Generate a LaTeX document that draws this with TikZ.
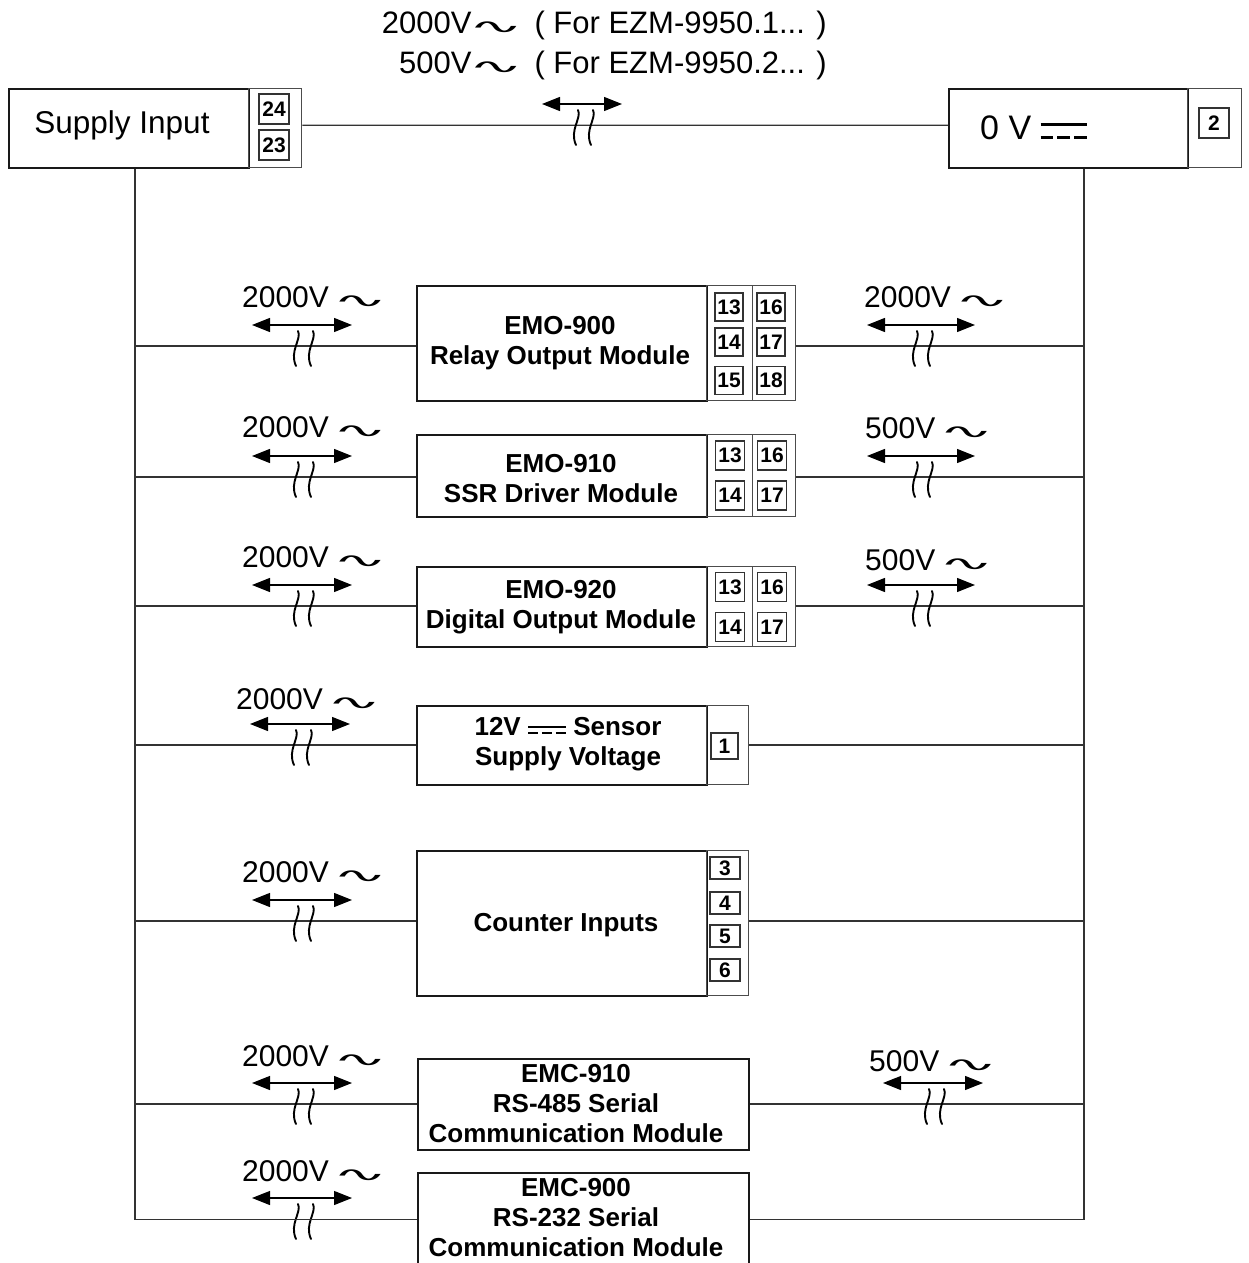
\documentclass[tikz,border=0pt]{standalone}
\usepackage{fontspec}
\setmainfont{Liberation Sans}
\newfontfamily\symfont{DejaVu Sans}
\usetikzlibrary{arrows.meta}
\newcommand\acsym{\hspace{-5pt}\raisebox{0pt}{\scalebox{3.3}[1]{\fontsize{20}{20}\symfont ∿}}\hspace{-6pt}}
\newcommand\dcsym[4]{\raisebox{#4}{\vbox{\hrule width #1 height #3 depth 0pt\vskip #2\hbox to #1{\vrule width \dimexpr #1*27/100\relax height #3 depth 0pt\hfill\vrule width \dimexpr #1*27/100\relax height #3 depth 0pt\hfill\vrule width \dimexpr #1*27/100\relax height #3 depth 0pt}}}}
\tikzset{
  wire/.style={line width=1.4pt, draw=black!80},
  mainbox/.style={draw=black!90, line width=1.5pt, inner sep=0pt, anchor=north west},
  strip/.style={draw=black!70, line width=1.4pt, inner sep=0pt, anchor=north west},
  term/.style={draw=black!80, line width=1.3pt, inner sep=0pt, font=\fontsize{21}{24}\selectfont\bfseries},
  boxtext/.style={align=center, inner sep=0pt, font=\fontsize{26}{30}\selectfont\bfseries},
  vlabel/.style={inner sep=0pt, anchor=base west, font=\fontsize{30}{36}\selectfont},
  hlabel/.style={inner sep=0pt, anchor=base east, font=\fontsize{31}{36}\selectfont},
  isoarrow/.style={line width=1.2pt, {Triangle[length=18pt,width=14pt]}-{Triangle[length=18pt,width=14pt]}},
  squig/.style={line width=1.9pt, line cap=round},
  pics/iso/.style={code={
    \draw[isoarrow] (-#1,-21) -- (#1,-21);
    \draw[squig] (-4,-15) .. controls (0,-7) and (-13,5) .. (-6,20);
    \draw[squig] (11,-15) .. controls (15,-7) and (2,5) .. (9,20);
  }}
}
\begin{document}
\begin{tikzpicture}[x=1pt,y=-1pt]
\fill[white] (0,0) rectangle (1248,1263);
\useasboundingbox (0,0) rectangle (1248,1263);
% header
\node[hlabel] (h1) at (827,34) {2000V\hspace{1.5pt}\acsym\ \ ( For EZM-9950.1... )};
\node[hlabel] (h2) at (827,74) {500V\hspace{1.5pt}\acsym\ \ ( For EZM-9950.2... )};
% supply input
\node[mainbox, minimum width=240pt, minimum height=79pt] (sup) at (8,88) {};
\node[inner sep=0pt, font=\fontsize{31.5}{36}\selectfont] (suptxt) at (122,125) {Supply Input};
\node[strip, minimum width=53pt, minimum height=79pt] (supT) at (248,88) {};
\node[term, minimum width=30pt, minimum height=30pt] (t24) at (274,109) {24};
\node[term, minimum width=30pt, minimum height=30pt] (t23) at (274,145) {23};
% 0 V
\node[mainbox, minimum width=239pt, minimum height=79pt] (zero) at (948,88) {};
\node[inner sep=0pt, anchor=base west, font=\fontsize{34}{40}\selectfont] (zerotxt) at (980,139) {0 V \dcsym{46pt}{10.5pt}{2.5pt}{0.5pt}};
\node[strip, minimum width=54pt, minimum height=79pt] (zeroT) at (1187,88) {};
\node[term, minimum width=30pt, minimum height=30pt] (t2) at (1214,123) {2};
\draw[wire] ([yshift=3pt]supT.east) -- ([yshift=3pt]zero.west);
\pic at (582,125) {iso=40};
% buses
\coordinate (bl) at (135,0);
\coordinate (br) at (1084,0);
% row 1 EMO-900
\node[mainbox, minimum width=290pt, minimum height=115pt] (m1) at (416,285) {};
\node[strip, minimum width=46pt, minimum height=115pt] (s1a) at (706,285) {};
\node[strip, minimum width=43pt, minimum height=115pt] (s1b) at (752,285) {};
\node[boxtext] (x1) at (560,343) {EMO-900\\Relay Output Module};
\node[term, minimum width=28pt, minimum height=28pt] (k113) at (729,307) {13};
\node[term, minimum width=28pt, minimum height=28pt] (k114) at (729,342) {14};
\node[term, minimum width=28pt, minimum height=28pt] (k115) at (729,380.5) {15};
\node[term, minimum width=28pt, minimum height=28pt] (k116) at (771,307) {16};
\node[term, minimum width=28pt, minimum height=28pt] (k117) at (771,342) {17};
\node[term, minimum width=28pt, minimum height=28pt] (k118) at (771,380.5) {18};
\coordinate (r1) at (0,346);
\draw[wire] (r1 -| bl) -- (r1 -| m1.west);
\draw[wire] (r1 -| s1b.east) -- (r1 -| br);
\pic at (302,346) {iso=50};
\pic at (921,346) {iso=54};
\node[vlabel] (l1) at (242,307) {2000V \acsym};
\node[vlabel] (q1) at (864,307) {2000V \acsym};
% row 2 EMO-910
\node[mainbox, minimum width=290pt, minimum height=82pt] (m2) at (416,434) {};
\node[strip, minimum width=46pt, minimum height=82pt] (s2a) at (706,434) {};
\node[strip, minimum width=43pt, minimum height=82pt] (s2b) at (752,434) {};
\node[boxtext] (x2) at (561,478.5) {EMO-910\\SSR Driver Module};
\node[term, minimum width=29pt, minimum height=29pt] (k213) at (730,455.5) {13};
\node[term, minimum width=29pt, minimum height=29pt] (k214) at (730,495.5) {14};
\node[term, minimum width=29pt, minimum height=29pt] (k216) at (772,455.5) {16};
\node[term, minimum width=29pt, minimum height=29pt] (k217) at (772,495.5) {17};
\coordinate (r2) at (0,477);
\draw[wire] (r2 -| bl) -- (r2 -| m2.west);
\draw[wire] (r2 -| s2b.east) -- (r2 -| br);
\pic at (302,477) {iso=50};
\pic at (921,477) {iso=54};
\node[vlabel] (l2) at (242,437) {2000V \acsym};
\node[vlabel] (q2) at (865,438) {500V \acsym};
% row 3 EMO-920
\node[mainbox, minimum width=290pt, minimum height=80pt] (m3) at (416,566) {};
\node[strip, minimum width=46pt, minimum height=80pt] (s3a) at (706,566) {};
\node[strip, minimum width=43pt, minimum height=80pt] (s3b) at (752,566) {};
\node[boxtext] (x3) at (561,607) {EMO-920\\Digital Output Module};
\node[term, minimum width=29pt, minimum height=29pt] (k313) at (730,587) {13};
\node[term, minimum width=29pt, minimum height=29pt] (k314) at (730,627) {14};
\node[term, minimum width=29pt, minimum height=29pt] (k316) at (772,587) {16};
\node[term, minimum width=29pt, minimum height=29pt] (k317) at (772,627) {17};
\coordinate (r3) at (0,606);
\draw[wire] (r3 -| bl) -- (r3 -| m3.west);
\draw[wire] (r3 -| s3b.east) -- (r3 -| br);
\pic at (302,606) {iso=50};
\pic at (921,606) {iso=54};
\node[vlabel] (l3) at (242,567) {2000V \acsym};
\node[vlabel] (q3) at (865,570) {500V \acsym};
% row 4 12V sensor supply
\node[mainbox, minimum width=290pt, minimum height=79pt] (m4) at (416,705) {};
\node[strip, minimum width=42pt, minimum height=79pt] (s4) at (706,705) {};
\node[boxtext] (x4) at (568,744) {12V \dcsym{38pt}{4pt}{2pt}{1pt} Sensor\\Supply Voltage};
\node[term, minimum width=27pt, minimum height=26pt] (k41) at (724.5,746) {1};
\coordinate (r4) at (0,745);
\draw[wire] (r4 -| bl) -- (r4 -| m4.west);
\draw[wire] (r4 -| s4.east) -- (r4 -| br);
\pic at (300,745) {iso=50};
\node[vlabel] (l4) at (236,709) {2000V \acsym};
% row 5 counter inputs
\node[mainbox, minimum width=290pt, minimum height=145pt] (m5) at (416,850) {};
\node[strip, minimum width=42pt, minimum height=145pt] (s5) at (706,850) {};
\node[boxtext] (x5) at (566,925) {Counter Inputs};
\node[term, minimum width=30pt, minimum height=22pt] (k53) at (725,868) {3};
\node[term, minimum width=30pt, minimum height=22pt] (k54) at (725,903) {4};
\node[term, minimum width=30pt, minimum height=22pt] (k55) at (725,936) {5};
\node[term, minimum width=30pt, minimum height=22pt] (k56) at (725,970) {6};
\coordinate (r5) at (0,921);
\draw[wire] (r5 -| bl) -- (r5 -| m5.west);
\draw[wire] (r5 -| s5.east) -- (r5 -| br);
\pic at (302,921) {iso=50};
\node[vlabel] (l5) at (242,882) {2000V \acsym};
% row 6 EMC-910
\node[mainbox, minimum width=331pt, minimum height=91pt] (m6) at (417,1058) {};
\node[boxtext] (x6) at (576,1103.5) {EMC-910\\RS-485 Serial\\Communication Module};
\coordinate (r6) at (0,1104);
\draw[wire] (r6 -| bl) -- (r6 -| m6.west);
\draw[wire] (r6 -| m6.east) -- (r6 -| br);
\pic at (302,1104) {iso=50};
\pic at (933,1104) {iso=50};
\node[vlabel] (l6) at (242,1066) {2000V \acsym};
\node[vlabel] (q6) at (869,1071) {500V \acsym};
% row 7 EMC-900
\node[mainbox, minimum width=331pt, minimum height=94pt] (m7) at (417,1172) {};
\node[boxtext] (x7) at (576,1217.5) {EMC-900\\RS-232 Serial\\Communication Module};
\pic at (302,1219) {iso=50};
\node[vlabel] (l7) at (242,1181) {2000V \acsym};
% buses
\draw[wire] (sup.south -| bl) |- (m7.west);
\draw[wire] (zero.south -| br) |- (m7.east);
\end{tikzpicture}
\end{document}
